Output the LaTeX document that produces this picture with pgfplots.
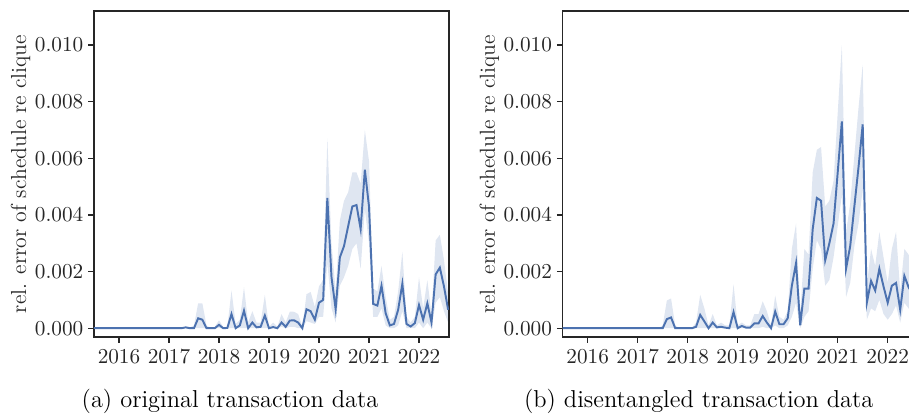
\documentclass[border=0pt]{standalone}
\usepackage{pgfplots}
\pgfplotsset{compat=1.18}
\usepackage{pgfplotstable}
\usepgfplotslibrary{fillbetween}
\definecolor{sbblue}{HTML}{4C72B0}
\definecolor{spine}{HTML}{262626}

\pgfplotstableread{
x m lo hi
2015.500 0 0 0
2017.250 0 0 0
2017.333 0.00003 0 0.00005
2017.417 0 0 0.00002
2017.500 0 0 0.0001
2017.583 0.00035 0 0.00088
2017.667 0.0003 0 0.00088
2017.750 0 0 0.0001
2017.833 0 0 0
2017.917 0 0 0.00005
2018.000 0.00012 0 0.00028
2018.083 0 0 0.00005
2018.167 0.00001 0 0.00005
2018.250 0.0005 0 0.00133
2018.333 0 0 0.00015
2018.417 0.0001 0 0.0003
2018.500 0.00062 0 0.00145
2018.583 0 0 0.0002
2018.667 0.0002 0 0.0006
2018.750 0.00003 0 0.0002
2018.833 0.00005 0 0.0002
2018.917 0.00045 0 0.00118
2019.000 0 0 0.00005
2019.083 0.00004 0 0.0002
2019.167 0 0 0.00005
2019.250 0.0002 0.00005 0.0005
2019.333 0.00005 0 0.0002
2019.417 0.00027 0.00005 0.00059
2019.500 0.00028 0.00005 0.00058
2019.583 0.0002 0 0.0005
2019.667 0 0 0.00005
2019.750 0.00067 0.00025 0.0012
2019.833 0.0006 0.0002 0.00128
2019.917 0.0003 0.00015 0.00075
2020.000 0.0009 0.0004 0.00148
2020.083 0.001 0.0004 0.0017
2020.167 0.0046 0.0023 0.0067
2020.250 0.0018 0.0007 0.003
2020.333 0.00067 0.0002 0.0013
2020.417 0.0025 0.0015 0.0038
2020.500 0.0029 0.0018 0.0045
2020.583 0.0036 0.0022 0.0048
2020.667 0.0043 0.0028 0.0055
2020.750 0.00435 0.003 0.0055
2020.833 0.0035 0.0021 0.0051
2020.917 0.0056 0.0042 0.007
2021.000 0.0043 0.003 0.0059
2021.083 0.00086 0.0004 0.0014
2021.167 0.0008 0.0004 0.0013
2021.250 0.0015 0.0007 0.0022
2021.333 0.00053 0.0001 0.0011
2021.417 0.0001 0 0.0003
2021.500 0.00015 0 0.0004
2021.583 0.00065 0.0001 0.0013
2021.667 0.00157 0.0006 0.0027
2021.750 0.00015 0 0.0004
2021.833 0.00006 0 0.0002
2021.917 0.00018 0 0.0004
2022.000 0.00082 0.0002 0.0018
2022.083 0.0003 0 0.0007
2022.167 0.00088 0.0002 0.0017
2022.250 0.0002 0 0.0005
2022.333 0.0019 0.0009 0.0031
2022.417 0.00214 0.0011 0.0033
2022.500 0.00147 0.0006 0.0024
2022.583 0.00065 0.0002 0.0012
}\dataA

\pgfplotstableread{
x m lo hi
2015.500 0 0 0
2017.417 0 0 0
2017.500 0 0 0.0001
2017.583 0.00032 0 0.00098
2017.667 0.00038 0 0.00105
2017.750 0 0 0.0001
2017.833 0 0 0
2018.083 0 0 0
2018.167 0.00005 0 0.0002
2018.250 0.00047 0 0.00118
2018.333 0.00024 0 0.0007
2018.417 0 0 0.0001
2018.500 0.0002 0 0.0005
2018.583 0.00003 0 0.0001
2018.667 0.00005 0 0.0002
2018.750 0.00002 0 0.0001
2018.833 0 0 0.0001
2018.917 0.00057 0 0.00155
2019.000 0 0 0.0001
2019.083 0.00008 0 0.0002
2019.167 0.00002 0 0.0001
2019.250 0.00002 0 0.0001
2019.333 0.00017 0 0.0005
2019.417 0.00017 0 0.0005
2019.500 0.00043 0.00005 0.00095
2019.583 0.0002 0 0.0006
2019.667 0 0 0.0001
2019.750 0.00059 0.0001 0.00115
2019.833 0.00014 0 0.0004
2019.917 0.00014 0 0.0003
2020.000 0.00035 0.0001 0.0006
2020.083 0.0015 0.0004 0.0028
2020.167 0.0023 0.0009 0.0037
2020.250 0.0001 0 0.0005
2020.333 0.0014 0.0004 0.0028
2020.417 0.0014 0.0006 0.0026
2020.500 0.0035 0.0021 0.0055
2020.583 0.0046 0.0031 0.0063
2020.667 0.0045 0.0028 0.0064
2020.750 0.0024 0.0015 0.0043
2020.833 0.003 0.0017 0.0045
2020.917 0.0037 0.0025 0.0052
2021.000 0.0055 0.0036 0.0076
2021.083 0.0073 0.0047 0.01
2021.167 0.0021 0.0011 0.0034
2021.250 0.0029 0.0016 0.0044
2021.333 0.0043 0.0029 0.0061
2021.417 0.0057 0.0037 0.0078
2021.500 0.0072 0.0049 0.0093
2021.583 0.0009 0.0003 0.0015
2021.667 0.00167 0.0007 0.0028
2021.750 0.00133 0.0006 0.0022
2021.833 0.0021 0.001 0.0034
2021.917 0.00147 0.0005 0.0025
2022.000 0.0009 0.0003 0.0016
2022.083 0.0015 0.0005 0.0028
2022.167 0.0016 0.0008 0.0034
2022.250 0.00065 0.0002 0.0013
2022.333 0.00185 0.0009 0.0028
2022.417 0.00145 0.0007 0.0026
2022.500 0.0012 0.0005 0.0022
2022.583 0.001 0.0003 0.0018
}\dataB

\pgfplotsset{
  myaxis/.style={
    scale only axis,
    width=183pt, height=168pt,
    xmin=2015.5, xmax=2022.6,
    ymin=-0.00031, ymax=0.0112,
    xtick={2016,2017,2018,2019,2020,2021,2022},
    ytick={0,0.002,0.004,0.006,0.008,0.010},
    scaled y ticks=false,
    yticklabel style={/pgf/number format/fixed, /pgf/number format/fixed zerofill, /pgf/number format/precision=3, xshift=1pt},
    xticklabel style={/pgf/number format/1000 sep={}},
    tick label style={font=\fontsize{11.2}{13}\selectfont, text=spine},
    tick align=outside, tick pos=left,
    major tick length=3pt,
    every tick/.style={spine, line width=0.65pt},
    axis line style={spine, line width=0.65pt},
    ylabel={rel. error of schedule re clique},
    ylabel style={font=\fontsize{11.2}{13}\selectfont, text=spine},
    ylabel shift=-4.5pt,
    anchor=south west,
  },
}

\begin{document}
\begin{tikzpicture}
\begin{axis}[myaxis, at={(48.45pt,39.69pt)}]
  \addplot[name path=UA, draw=none, forget plot] table[x=x, y=hi] {\dataA};
  \addplot[name path=LA, draw=none, forget plot] table[x=x, y=lo] {\dataA};
  \addplot[fill=sbblue, fill opacity=0.18, draw=none, forget plot] fill between[of=UA and LA];
  \addplot[sbblue, line width=1pt] table[x=x, y=m] {\dataA};
\end{axis}
\begin{axis}[myaxis, at={(290.05pt,39.69pt)}]
  \addplot[name path=UB, draw=none, forget plot] table[x=x, y=hi] {\dataB};
  \addplot[name path=LB, draw=none, forget plot] table[x=x, y=lo] {\dataB};
  \addplot[fill=sbblue, fill opacity=0.18, draw=none, forget plot] fill between[of=UB and LB];
  \addplot[sbblue, line width=1pt] table[x=x, y=m] {\dataB};
\end{axis}
\node[anchor=base, font=\fontsize{12.6}{15}\selectfont] at (118.6pt,3.1pt) {(a) original transaction data};
\node[anchor=base, font=\fontsize{12.6}{15}\selectfont] at (360.2pt,3.1pt) {(b) disentangled transaction data};
\pgfresetboundingbox
\useasboundingbox (0,0) rectangle (468.56pt,213.40pt);
\end{tikzpicture}
\end{document}
